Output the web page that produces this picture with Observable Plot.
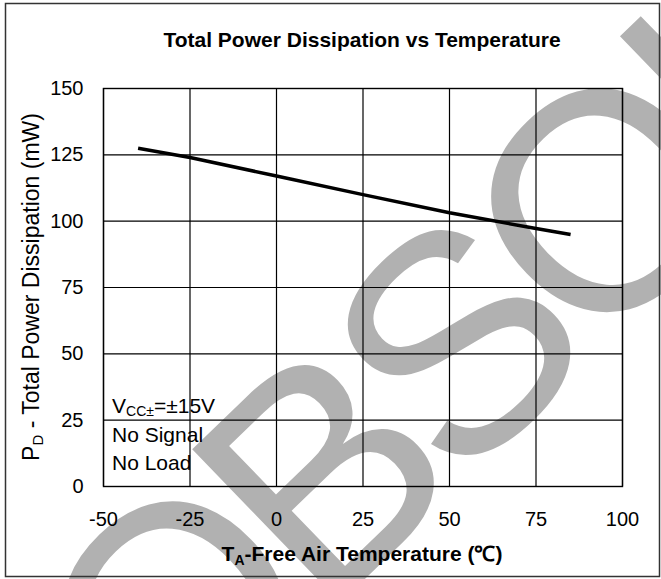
<!DOCTYPE html>
<html>
<head>
<meta charset="utf-8">
<script src="https://cdn.jsdelivr.net/npm/d3@7"></script>
<script src="https://cdn.jsdelivr.net/npm/@observablehq/plot@0.6"></script>
<style>
  html, body { margin: 0; padding: 0; background: #fff; }
  #chart { width: 661px; height: 579px; }
</style>
</head>
<body>
<div id="chart"></div>
<script>
// ---- data ----
const temps = [-40, -25, 0, 25, 50, 75, 85];
const power = [127.5, 124, 117, 110, 103.2, 97.2, 95];
const xTicks = [-50, -25, 0, 25, 50, 75, 100];
const yTicks = [0, 25, 50, 75, 100, 125, 150];
const titleText = "Total Power Dissipation vs Temperature";
const xLabelParts = ["T", "A", "-Free Air Temperature (\u2103)"];
const yLabelParts = ["P", "D", " - Total Power Dissipation (mW)"];
const condFirst = ["V", "CC\u00b1", "=\u00b115V"];
const condLines = ["No Signal", "No Load"];
const watermarkText = "OBSOLETE";

const data = temps.map((t, i) => ({t, p: power[i]}));
const font = "'Liberation Sans', Arial, sans-serif";

const plot = Plot.plot({
  width: 661,
  height: 579,
  marginLeft: 103,
  marginRight: 39,
  marginTop: 88,
  marginBottom: 93,
  style: {fontFamily: font, fontSize: "20px", color: "#000", background: "#fff", overflow: "visible"},
  x: {domain: [-50, 100], label: null},
  y: {domain: [0, 150], label: null},
  marks: [
    Plot.gridX(xTicks, {stroke: "#000", strokeOpacity: 1, strokeWidth: 1.2}),
    Plot.gridY(yTicks, {stroke: "#000", strokeOpacity: 1, strokeWidth: 1.2}),
    Plot.frame({stroke: "#000", strokeWidth: 1.4}),
    Plot.axisX(xTicks, {tickSize: 0, tickPadding: 25, fontSize: 20, label: null, tickFormat: d => String(d)}),
    Plot.axisY(yTicks, {tickSize: 0, tickPadding: 20, fontSize: 20, label: null, tickFormat: d => String(d)}),
    Plot.line(data, {x: "t", y: "p", stroke: "#000", strokeWidth: 3.5, strokeLinecap: "butt"})
  ]
});
document.getElementById("chart").appendChild(plot);

const svg = d3.select(plot);

// watermark beneath everything
const wm = svg.insert("g", ":first-child");
wm.append("text")
  .attr("x", 163).attr("y", 774)
  .attr("transform", "rotate(-44 163 774)")
  .attr("text-anchor", "start")
  .attr("font-family", font)
  .attr("font-size", 310)
  .attr("letter-spacing", -20)
  .attr("fill", "#b1b1b1")
  .text(watermarkText);
svg.insert("rect", ":first-child")
  .attr("x", 0).attr("y", 0).attr("width", 661).attr("height", 579).attr("fill", "#fff");

// outer border
svg.append("rect")
  .attr("x", 5.5).attr("y", 3.5).attr("width", 654).attr("height", 573)
  .attr("fill", "none").attr("stroke", "#333").attr("stroke-width", 1.5);

// title
svg.append("text")
  .attr("x", 362).attr("y", 47)
  .attr("text-anchor", "middle")
  .attr("font-family", font).attr("font-weight", "bold").attr("font-size", 21)
  .attr("fill", "#000")
  .text(titleText);

// x label
const xl = svg.append("text")
  .attr("x", 362).attr("y", 561)
  .attr("text-anchor", "middle")
  .attr("font-family", font).attr("font-weight", "bold").attr("font-size", 21)
  .attr("fill", "#000");
xl.append("tspan").text(xLabelParts[0]);
xl.append("tspan").attr("font-size", 14).attr("dy", 4).text(xLabelParts[1]);
xl.append("tspan").attr("dy", -4).text(xLabelParts[2]);

// y label
const yl = svg.append("text")
  .attr("transform", "translate(39,287) rotate(-90)")
  .attr("text-anchor", "middle")
  .attr("font-family", font).attr("font-size", 23)
  .attr("fill", "#000");
yl.append("tspan").text(yLabelParts[0]);
yl.append("tspan").attr("font-size", 15).attr("dy", 4).text(yLabelParts[1]);
yl.append("tspan").attr("dy", -4).text(yLabelParts[2]);

// conditions
const c1 = svg.append("text")
  .attr("x", 112).attr("y", 413)
  .attr("text-anchor", "start")
  .attr("font-family", font).attr("font-size", 21).attr("fill", "#000");
c1.append("tspan").text(condFirst[0]);
c1.append("tspan").attr("font-size", 14).attr("dy", 3).text(condFirst[1]);
c1.append("tspan").attr("dy", -3).text(condFirst[2]);
condLines.forEach((s, i) => {
  svg.append("text")
    .attr("x", 112).attr("y", 442 + i * 27.5)
    .attr("text-anchor", "start")
    .attr("font-family", font).attr("font-size", 21).attr("fill", "#000")
    .text(s);
});
</script>
</body>
</html>
